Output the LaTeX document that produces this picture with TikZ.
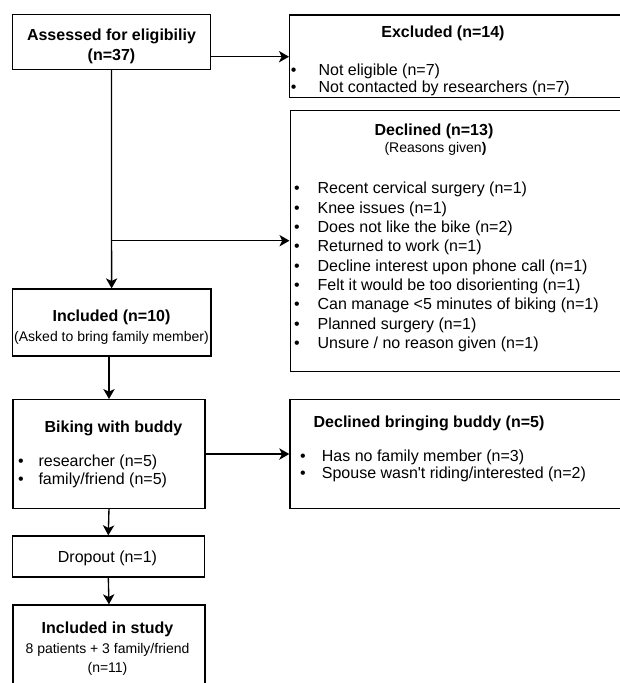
\documentclass[tikz,border=0pt]{standalone}
\usepackage{fontspec}
\setmainfont{Liberation Sans}
\usetikzlibrary{arrows.meta}
\newdimen\unitpx
\unitpx=0.75pt
\newcommand{\bitem}[2][16pt]{\makebox[#1][l]{\textbullet}#2}
\tikzset{box/.style={draw, line width=1pt, inner sep=0pt},
 head/.style={font=\bfseries\fontsize{12}{14.5}\selectfont, inner sep=0pt, anchor=base},
 plain/.style={font=\fontsize{12}{14.5}\selectfont, inner sep=0pt, anchor=base},
 note/.style={font=\fontsize{10.5}{14}\selectfont, inner sep=0pt, anchor=base, align=center},
 bullets/.style={align=left, inner sep=0pt, anchor=base west},
 flow/.style={line width=1pt, -{Stealth[length=7.5pt,width=8.5pt,inset=2pt]}},
 }

\begin{document}
\begin{tikzpicture}[x=0.75pt, y=-0.75pt]
        \useasboundingbox (0,0) rectangle (620,683);
        \clip (0,0) rectangle (620,683);
        % boxes, left column
        \node[box, minimum width=198.5\unitpx, minimum height=55\unitpx] (assess) at (111.5,41.8) {};
        \node[box, minimum width=198.7\unitpx, minimum height=67\unitpx] (incl) at (111.6,322.5) {};
        \node[box, anchor=north west, minimum width=192\unitpx, minimum height=108.7\unitpx] (bike) at (12.3,399) {};
        \node[box, minimum width=192\unitpx, minimum height=41\unitpx] (drop) at (108.3,556.5) {};
        \node[box, anchor=north west, minimum width=192\unitpx, minimum height=86\unitpx] (study) at (12.3,604.3) {};
        % boxes, right column
        \node[box, anchor=north west, minimum width=371\unitpx, minimum height=82.7\unitpx] (excl) at (289,14.3) {};
        \node[box, anchor=north west, minimum width=371\unitpx, minimum height=260.7\unitpx] (decl) at (289.5,110) {};
        \node[box, anchor=north west, minimum width=371\unitpx, minimum height=108.7\unitpx] (buddy) at (289.3,399) {};
        % texts
        \node[head, align=center] (assesstext) at (111.5,60.3) {Assessed for eligibiliy\\(n=37)};
        \node[head] (incltitle) at (111.5,321) {Included (n=10)};
        \node[note] (inclnote) at (111.5,341) {(Asked to bring family member)};
        \node[head] (biketitle) at (113.5,432.6) {Biking with buddy};
        \node[bullets, font=\fontsize{12}{13.5}\selectfont] (bikelist) at (17.9,484)
            {\bitem[15.3pt]{researcher (n=5)}\\\bitem[15.3pt]{family/friend (n=5)}};
        \node[plain] (droptext) at (107.5,562.6) {Dropout (n=1)};
        \node[head] (studytitle) at (107.5,633.5) {Included in study};
        \node[note] (studynote) at (107.5,672.4) {8 patients + 3 family/friend\\(n=11)};
        \node[head] (excltitle) at (443,37) {Excluded (n=14)};
        \node[bullets, font=\fontsize{12}{12.5}\selectfont] (excllist) at (290.5,92)
            {\bitem[20.9pt]{Not eligible (n=7)}\\\bitem[20.9pt]{Not contacted by researchers (n=7)}};
        \node[head] (decltitle) at (434,135.9) {Declined (n=13)};
        \node[note] (declnote) at (435.5,152.4) {(Reasons given\textbf{)}};
        \node[bullets, font=\fontsize{12}{14.5}\selectfont] (decllist) at (293.9,348.5)
            {\bitem[17.6pt]{Recent cervical surgery (n=1)}\\
             \bitem[17.6pt]{Knee issues (n=1)}\\
             \bitem[17.6pt]{Does not like the bike (n=2)}\\
             \bitem[17.6pt]{Returned to work (n=1)}\\
             \bitem[17.6pt]{Decline interest upon phone call (n=1)}\\
             \bitem[17.6pt]{Felt it would be too disorienting (n=1)}\\
             \bitem[17.6pt]{Can manage <5 minutes of biking (n=1)}\\
             \bitem[17.6pt]{Planned surgery (n=1)}\\
             \bitem[17.6pt]{Unsure / no reason given (n=1)}};
        \node[head] (buddytitle) at (429,427) {Declined bringing buddy (n=5)};
        \node[bullets, font=\fontsize{12}{13.2}\selectfont] (buddylist) at (299.9,478.6)
            {\bitem[16.3pt]{Has no family member (n=3)}\\\bitem[16.3pt]{Spouse wasn\textquotesingle t riding/interested (n=2)}};
        % connectors
        \coordinate (exclin) at (289,56.7);
        \coordinate (declin) at (289.5,240.7);
        \draw[flow] (assess.east |- exclin) -- (exclin);
        \draw[flow] (assess.south) -- (incl.north);
        \draw[flow] (assess.south |- declin) -- (declin);
        \draw[flow] (incl.south -| bike.north) -- (bike.north);
        \draw[flow] (bike.east) -- (buddy.west);
        \draw[flow] (bike.south) -- (drop.north);
        \draw[flow] (drop.south) -- (study.north);
    \end{tikzpicture}
\end{document}
